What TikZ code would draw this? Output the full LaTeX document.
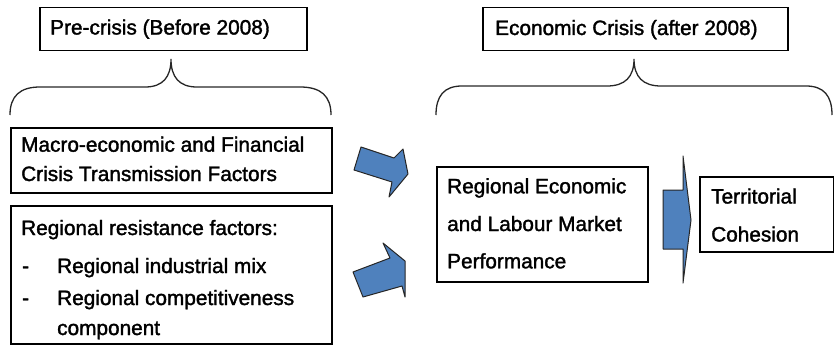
\documentclass[tikz,border=0pt]{standalone}
\usepackage{fontspec}
\setmainfont{Liberation Sans}
\newfontfamily\heavyfont[FakeBold=1.6]{Liberation Sans}
\usetikzlibrary{calc}
\definecolor{arrowblue}{RGB}{79,129,189}
\tikzset{
	frame/.style={draw=black, line width=1.5pt, rectangle, inner sep=0pt, anchor=north west},
	txt/.style={anchor=base west, inner sep=0pt, font=\heavyfont\fontsize{20.8}{25}\selectfont},
	brace/.style={draw=black!85, line width=1.3pt},
	blockarrow/.style={draw=black!85, fill=arrowblue, line width=1pt, line join=round}
}

\begin{document}
\begin{tikzpicture}[x=1pt, y=-1pt]
		%%%%% START %%%%%
		\useasboundingbox (0,0) rectangle (834,345);
		
		% headings
		\node[frame, minimum width=267pt, minimum height=43pt] (pre) at (39,7) {};
		\node[txt] (pretext) at (50,34.5) {Pre-crisis (Before 2008)};
		\node[frame, minimum width=305pt, minimum height=43pt] (crisis) at (482,7) {};
		\node[txt] (crisistext) at (495,35) {Economic Crisis (after 2008)};
		
		% braces
		\draw[brace] (10,115) .. controls (10,96) and (20,87) .. (40,87) -- (145,87)
			.. controls (163,87) and (171,77) .. (171,59)
			.. controls (171,77) and (179,87) .. (197,87) -- (300,87)
			.. controls (321,87) and (331,96) .. (331,115);
		\draw[brace] (436,115) .. controls (436,96) and (444,86) .. (462,86) -- (607,86)
			.. controls (625,86) and (634,77) .. (634,59)
			.. controls (634,77) and (643,86) .. (661,86) -- (806,86)
			.. controls (824,86) and (832,96) .. (832,115);
		
		% pre-crisis factors
		\node[frame, minimum width=321pt, minimum height=65pt] (macro) at (10,127) {};
		\node[txt] (macro1) at (21,151.7) {Macro-economic and Financial};
		\node[txt] (macro2) at (21,181) {Crisis Transmission Factors};
		
		\node[frame, minimum width=321pt, minimum height=138pt] (resist) at (10,205) {};
		\node[txt] (resist1) at (21,235) {Regional resistance factors:};
		\node[txt] (dash1) at (22,273) {-};
		\node[txt] (resist2) at (57,273) {Regional industrial mix};
		\node[txt] (dash2) at (22,305) {-};
		\node[txt] (resist3) at (57,305) {Regional competitiveness};
		\node[txt] (resist4) at (57,335) {component};
		
		% block arrows
		\draw[blockarrow] (361,147) -- (394,158) -- (403,149) -- (408,174)
			-- (389,197) -- (392,182) -- (354,170) -- cycle;
		\draw[blockarrow] (353,272) -- (390,258) -- (383,243) -- (405,261)
			-- (405,297) -- (402,286) -- (363,297) -- cycle;
		
		% crisis performance
		\node[frame, minimum width=211pt, minimum height=115pt] (perf) at (436,166) {};
		\node[txt] (perf1) at (447,193.3) {Regional Economic};
		\node[txt] (perf2) at (447,231) {and Labour Market};
		\node[txt] (perf3) at (447,268.3) {Performance};
		
		\draw[blockarrow] (663,190) -- (683,190) -- (683,156) -- (691,220)
			-- (683,283) -- (683,249) -- (663,249) -- cycle;
		
		\node[frame, minimum width=134pt, minimum height=75pt] (cohesion) at (699,176) {};
		\node[txt] (cohesion1) at (711,203.5) {Territorial};
		\node[txt] (cohesion2) at (711,241.5) {Cohesion};
		
		%%%%% END %%%%%
\end{tikzpicture}
\end{document}
